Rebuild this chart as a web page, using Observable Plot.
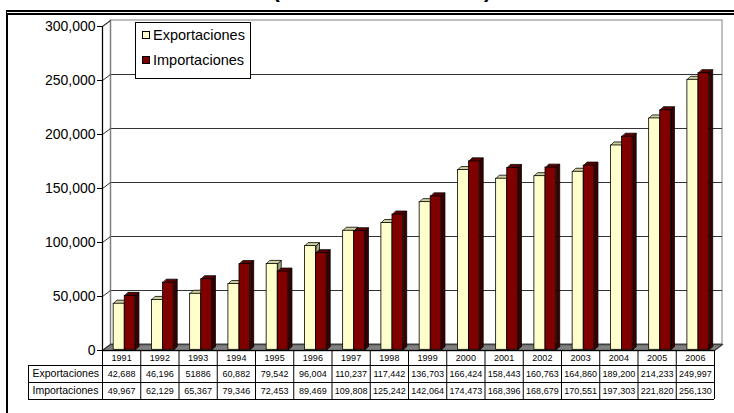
<!DOCTYPE html>
<html>
<head>
<meta charset="utf-8">
<script src="https://cdn.jsdelivr.net/npm/d3@7"></script>
<script src="https://cdn.jsdelivr.net/npm/@observablehq/plot@0.6"></script>
<style>
  body { margin: 0; background: #fff; }
  #chart { position: relative; width: 734px; height: 413px; overflow: hidden; font-family: "Liberation Sans", Arial, sans-serif; }
  #title { position: absolute; left: 0; width: 764px; top: -23px; text-align: center; font-weight: bold; font-size: 22px; line-height: normal; }
  #frame { position: absolute; left: 6px; top: 10px; right: -10px; bottom: -10px; border-top: 5px double #000; border-left: 2px solid #000; }
  #plot { position: absolute; left: 0; top: 0; }
  #legend { position: absolute; left: 135px; top: 22px; width: 114px; height: 55px; border: 1px solid #000; background: #fff; font-size: 14.5px; }
  #legend .item { height: 25px; line-height: 25px; padding-left: 6px; white-space: nowrap; }
  #legend .sw { display: inline-block; width: 6px; height: 6px; border: 1px solid #000; margin-right: 3px; vertical-align: middle; position: relative; top: -1px; }
</style>
</head>
<body>
<div id="chart">
  <div id="title">(Millones de dólares)</div>
  <div id="frame"></div>
  <div id="plot"></div>
  <div id="legend"></div>
</div>
<script>
// Exports and imports by year, as printed in the data table
const years = ["1991", "1992", "1993", "1994", "1995", "1996", "1997", "1998",
               "1999", "2000", "2001", "2002", "2003", "2004", "2005", "2006"];
const seriesNames = ["Exportaciones", "Importaciones"];
const exportLabels = ["42,688", "46,196", "51886", "60,882", "79,542", "96,004", "110,237", "117,442",
                      "136,703", "166,424", "158,443", "160,763", "164,860", "189,200", "214,233", "249,997"];
const importLabels = ["49,967", "62,129", "65,367", "79,346", "72,453", "89,469", "109,808", "125,242",
                      "142,064", "174,473", "168,396", "168,679", "170,551", "197,303", "221,820", "256,130"];
const yTicks = [0, 50000, 100000, 150000, 200000, 250000, 300000];

const toNumber = s => +s.replace(/,/g, "");
const exportaciones = exportLabels.map(toNumber);
const importaciones = importLabels.map(toNumber);

// Face colours per series: front, top, side
const palette = [
  {front: "#FFFFCC", top: "#CFCF9E", side: "#A8A880"},
  {front: "#800000", top: "#5C0000", side: "#3A0000"}
];

// Frame geometry
const W = 734, H = 413;
const mL = 102, mR = 20, mT = 26, mB = 63;
const n = years.length;
const yMax = yTicks[yTicks.length - 1];
const xPx = n / (W - mL - mR);      // x units per pixel
const yPx = yMax / (H - mT - mB);   // y units per pixel

// Pseudo-3D depth: walls, bar placement inside the depth, bar thickness
const wallDx = 8 * xPx, wallDy = 6 * yPx;
const barDx = 3.5 * xPx, barDy = 0.7 * yPx;
const depX = 3.5 * xPx, depY = 3.5 * yPx;
const slots = [[0.2, 0.49], [0.49, 0.77]];

function barGeometry(values, s) {
  const [a, b] = slots[s];
  const fronts = values.map((v, i) => ({x1: i + a + barDx, x2: i + b + barDx, y1: barDy, y2: v + barDy}));
  const tops = [], sides = [];
  fronts.forEach((f, i) => {
    tops.push({id: i, x: f.x1, y: f.y2}, {id: i, x: f.x2, y: f.y2},
              {id: i, x: f.x2 + depX, y: f.y2 + depY}, {id: i, x: f.x1 + depX, y: f.y2 + depY});
    sides.push({id: i, x: f.x2, y: f.y1}, {id: i, x: f.x2, y: f.y2},
               {id: i, x: f.x2 + depX, y: f.y2 + depY}, {id: i, x: f.x2 + depX, y: f.y1 + depY});
  });
  return {fronts, tops, sides};
}

const polygon = (pts, options) =>
  Plot.line(pts, {x: "x", y: "y", z: "id", curve: "linear-closed", ...options});

function barMarks(values, s) {
  const g = barGeometry(values, s), c = palette[s];
  return [
    polygon(g.sides, {fill: c.side, stroke: "#000", strokeWidth: 0.8}),
    polygon(g.tops, {fill: c.top, stroke: "#000", strokeWidth: 0.8}),
    Plot.rect(g.fronts, {x1: "x1", x2: "x2", y1: "y1", y2: "y2", fill: c.front, stroke: "#000", strokeWidth: 0.8})
  ];
}

// Table rows (pixel offsets below the floor edge)
const labelW = 74 * xPx;
const rowLines = [15, 32, 49];
const rowCenters = [7.5, 23.5, 40.5];
const below = px => -px * yPx;

const leftWall = [{id: 0, x: 0, y: 0}, {id: 0, x: 0, y: yMax}, {id: 0, x: wallDx, y: yMax + wallDy}, {id: 0, x: wallDx, y: wallDy}];
const floor = [{id: 0, x: 0, y: 0}, {id: 0, x: n, y: 0}, {id: 0, x: n + wallDx, y: wallDy}, {id: 0, x: wallDx, y: wallDy}];

const chart = Plot.plot({
  width: W, height: H,
  marginLeft: mL, marginRight: mR, marginTop: mT, marginBottom: mB,
  x: {domain: [0, n], axis: null},
  y: {domain: [0, yMax], axis: null},
  style: {fontFamily: "'Liberation Sans', Arial, sans-serif", fontSize: "14px", color: "#000", background: "transparent", overflow: "visible"},
  marks: [
    // back wall with its grid
    Plot.rect([0], {x1: wallDx, x2: n + wallDx, y1: wallDy, y2: yMax + wallDy, fill: "#fff", stroke: "#808080"}),
    Plot.ruleY(yTicks.slice(1, -1), {y: d => d + wallDy, x1: wallDx, x2: n + wallDx, stroke: "#333"}),
    // left wall with tick connectors
    polygon(leftWall, {fill: "#fff", stroke: "#808080"}),
    Plot.link(yTicks.slice(1), {x1: 0, y1: d => d, x2: wallDx, y2: d => d + wallDy, stroke: "#333"}),
    // floor
    polygon(floor, {fill: "#808080", stroke: "#404040"}),
    // bars
    ...barMarks(exportaciones, 0),
    ...barMarks(importaciones, 1),
    // front value axis
    Plot.ruleX([0], {y1: 0, y2: yMax, stroke: "#000"}),
    Plot.axisY(yTicks, {tickFormat: d3.format(","), tickSize: 5, tickPadding: 2, fontSize: 14, stroke: "#000"}),
    // data table
    Plot.ruleY([0], {x1: 0, x2: n, stroke: "#000"}),
    Plot.ruleY(rowLines, {y: below, x1: -labelW, x2: n, stroke: "#000"}),
    Plot.ruleX(d3.range(n + 1), {y1: 0, y2: below(rowLines[2]), stroke: "#000"}),
    Plot.ruleX([-labelW], {y1: below(rowLines[0]), y2: below(rowLines[2]), stroke: "#000"}),
    Plot.text(years, {x: (d, i) => i + 0.5, y: below(rowCenters[0]), text: d => d, fontSize: 9}),
    Plot.text(exportLabels, {x: (d, i) => i + 0.5, y: below(rowCenters[1]), text: d => d, fontSize: 9}),
    Plot.text(importLabels, {x: (d, i) => i + 0.5, y: below(rowCenters[2]), text: d => d, fontSize: 9}),
    Plot.text(seriesNames, {x: -labelW + 4 * xPx, y: (d, i) => below(rowCenters[i + 1]), text: d => d, textAnchor: "start", fontSize: 10.5})
  ]
});
document.getElementById("plot").appendChild(chart);

// Legend
const legend = document.getElementById("legend");
seriesNames.forEach((name, s) => {
  const item = document.createElement("div");
  item.className = "item";
  const sw = document.createElement("span");
  sw.className = "sw";
  sw.style.background = palette[s].front;
  item.appendChild(sw);
  item.appendChild(document.createTextNode(name));
  legend.appendChild(item);
});
</script>
</body>
</html>
